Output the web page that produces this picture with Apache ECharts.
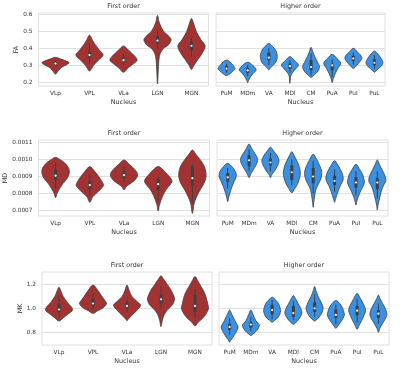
<!DOCTYPE html>
<html>
<head>
<meta charset="utf-8">
<script src="https://cdn.jsdelivr.net/npm/echarts@6/dist/echarts.min.js"></script>
<style>
  html, body { margin: 0; padding: 0; background: #fff; }
  #chart { width: 400px; height: 368px; }
</style>
</head>
<body>
<div id="chart"></div>
<script>
// categories
const firstOrder = ['VLp', 'VPL', 'VLa', 'LGN', 'MGN'];
const higherOrder = ['PuM', 'MDm', 'VA', 'MDl', 'CM', 'PuA', 'PuI', 'PuL'];

// y ranges and tick labels
const faRange = [0.178, 0.608];
const faTicks = [0.2, 0.3, 0.4, 0.5, 0.6];
const mdRange = [6.69e-4, 11.135e-4];
const mdTicks = [0.0007, 0.0008, 0.0009, 0.0010, 0.0011];
const mkRange = [0.694, 1.3025];
const mkTicks = [0.8, 1.0, 1.2];

// violin outlines: [value, relative half width], top to bottom
const faFirstShapes = [
  [[0.347, 0], [0.338, 0.35], [0.325, 0.8], [0.315, 1], [0.305, 0.85], [0.29, 0.5], [0.27, 0.22], [0.249, 0]],
  [[0.478, 0], [0.45, 0.2], [0.43, 0.35], [0.39, 0.72], [0.361, 1], [0.33, 0.65], [0.30, 0.3], [0.267, 0]],
  [[0.414, 0], [0.39, 0.35], [0.36, 0.75], [0.331, 1], [0.31, 0.75], [0.285, 0.35], [0.259, 0]],
  [[0.594, 0], [0.55, 0.14], [0.50, 0.45], [0.47, 0.85], [0.449, 1], [0.42, 0.8], [0.40, 0.45], [0.37, 0.2], [0.33, 0.1], [0.26, 0.05], [0.19, 0]],
  [[0.576, 0], [0.55, 0.14], [0.50, 0.35], [0.45, 0.7], [0.414, 1], [0.37, 0.78], [0.33, 0.43], [0.30, 0.18], [0.276, 0]]
];
const faHigherShapes = [
  [[0.331, 0], [0.32, 0.4], [0.30, 0.75], [0.282, 1], [0.265, 0.75], [0.25, 0.4], [0.239, 0]],
  [[0.318, 0], [0.30, 0.6], [0.273, 1], [0.25, 0.6], [0.23, 0.3], [0.21, 0.1], [0.198, 0]],
  [[0.429, 0], [0.41, 0.45], [0.39, 0.8], [0.37, 0.95], [0.35, 1], [0.32, 0.85], [0.30, 0.5], [0.285, 0.2], [0.273, 0]],
  [[0.351, 0], [0.33, 0.5], [0.302, 1], [0.28, 0.7], [0.26, 0.35], [0.24, 0.12], [0.22, 0.05], [0.194, 0]],
  [[0.406, 0], [0.38, 0.2], [0.35, 0.45], [0.32, 0.75], [0.292, 1], [0.265, 0.8], [0.245, 0.4], [0.229, 0]],
  [[0.365, 0], [0.34, 0.55], [0.312, 1], [0.28, 0.65], [0.25, 0.35], [0.22, 0.12], [0.198, 0]],
  [[0.40, 0], [0.38, 0.45], [0.36, 0.85], [0.341, 1], [0.32, 0.75], [0.30, 0.4], [0.282, 0]],
  [[0.384, 0], [0.36, 0.5], [0.34, 0.8], [0.316, 1], [0.295, 0.8], [0.28, 0.45], [0.265, 0.15], [0.259, 0]]
];
const mdFirstShapes = [
  [[10.12e-4, 0], [10.0e-4, 0.3], [9.8e-4, 0.65], [9.5e-4, 0.95], [9.2e-4, 1], [8.9e-4, 0.85], [8.6e-4, 0.55], [8.3e-4, 0.3], [8.0e-4, 0.1], [7.76e-4, 0]],
  [[9.58e-4, 0], [9.3e-4, 0.35], [9.0e-4, 0.65], [8.7e-4, 0.9], [8.5e-4, 1], [8.3e-4, 0.85], [8.0e-4, 0.45], [7.8e-4, 0.2], [7.49e-4, 0]],
  [[9.97e-4, 0], [9.7e-4, 0.4], [9.4e-4, 0.8], [9.1e-4, 1], [8.8e-4, 0.8], [8.55e-4, 0.4], [8.4e-4, 0.15], [8.21e-4, 0]],
  [[9.58e-4, 0], [9.4e-4, 0.35], [9.1e-4, 0.7], [8.85e-4, 0.95], [8.7e-4, 1], [8.5e-4, 0.85], [8.2e-4, 0.55], [7.9e-4, 0.35], [7.6e-4, 0.2], [7.3e-4, 0.08], [6.98e-4, 0]],
  [[10.55e-4, 0], [10.3e-4, 0.25], [10.0e-4, 0.55], [9.7e-4, 0.8], [9.4e-4, 0.95], [9.0e-4, 1], [8.6e-4, 0.85], [8.2e-4, 0.55], [7.8e-4, 0.3], [7.4e-4, 0.12], [6.84e-4, 0]]
];
const mdHigherShapes = [
  [[9.77e-4, 0], [9.6e-4, 0.45], [9.3e-4, 0.9], [9.0e-4, 1], [8.7e-4, 0.75], [8.4e-4, 0.5], [8.1e-4, 0.3], [7.8e-4, 0.12], [7.53e-4, 0]],
  [[10.9e-4, 0], [10.6e-4, 0.35], [10.3e-4, 0.75], [10.0e-4, 1], [9.7e-4, 0.85], [9.4e-4, 0.5], [9.15e-4, 0.2], [8.93e-4, 0]],
  [[10.71e-4, 0], [10.5e-4, 0.35], [10.2e-4, 0.8], [9.9e-4, 1], [9.6e-4, 0.8], [9.3e-4, 0.45], [9.1e-4, 0.15], [8.93e-4, 0]],
  [[10.45e-4, 0], [10.2e-4, 0.3], [9.9e-4, 0.6], [9.6e-4, 0.85], [9.2e-4, 1], [8.9e-4, 0.9], [8.6e-4, 0.7], [8.3e-4, 0.35], [8.05e-4, 0]],
  [[10.3e-4, 0], [10.0e-4, 0.4], [9.7e-4, 0.7], [9.4e-4, 0.95], [9.1e-4, 1], [8.8e-4, 0.85], [8.5e-4, 0.55], [8.2e-4, 0.3], [7.8e-4, 0.15], [7.5e-4, 0.07], [7.2e-4, 0]],
  [[9.93e-4, 0], [9.7e-4, 0.35], [9.4e-4, 0.7], [9.1e-4, 0.95], [8.8e-4, 1], [8.5e-4, 0.7], [8.2e-4, 0.45], [7.9e-4, 0.25], [7.65e-4, 0.1], [7.49e-4, 0]],
  [[9.71e-4, 0], [9.4e-4, 0.45], [9.1e-4, 0.8], [8.8e-4, 0.95], [8.65e-4, 1], [8.4e-4, 0.8], [8.1e-4, 0.5], [7.8e-4, 0.25], [7.5e-4, 0.08], [7.33e-4, 0]],
  [[9.97e-4, 0], [9.7e-4, 0.25], [9.4e-4, 0.55], [9.1e-4, 0.85], [8.75e-4, 1], [8.5e-4, 0.75], [8.2e-4, 0.5], [7.9e-4, 0.35], [7.6e-4, 0.2], [7.3e-4, 0.07], [7.04e-4, 0]]
];
const mkFirstShapes = [
  [[1.175, 0], [1.15, 0.12], [1.10, 0.3], [1.05, 0.6], [0.99, 1], [0.95, 0.65], [0.92, 0.3], [0.894, 0]],
  [[1.194, 0], [1.15, 0.35], [1.10, 0.65], [1.06, 0.9], [1.04, 1], [1.0, 0.7], [0.98, 0.35], [0.958, 0]],
  [[1.194, 0], [1.15, 0.15], [1.10, 0.35], [1.05, 0.8], [1.025, 1], [0.98, 0.7], [0.94, 0.35], [0.91, 0.1], [0.897, 0]],
  [[1.272, 0], [1.25, 0.15], [1.20, 0.45], [1.15, 0.75], [1.10, 0.95], [1.075, 1], [1.03, 0.85], [0.99, 0.5], [0.95, 0.25], [0.90, 0.1], [0.847, 0]],
  [[1.264, 0], [1.23, 0.2], [1.18, 0.45], [1.13, 0.7], [1.08, 0.85], [1.03, 0.95], [1.0, 1], [0.95, 0.8], [0.91, 0.5], [0.88, 0.2], [0.853, 0]]
];
const mkHigherShapes = [
  [[0.986, 0], [0.95, 0.25], [0.90, 0.6], [0.86, 0.9], [0.842, 1], [0.80, 0.75], [0.76, 0.4], [0.73, 0.1], [0.717, 0]],
  [[0.986, 0], [0.95, 0.25], [0.90, 0.55], [0.87, 0.9], [0.861, 1], [0.83, 0.85], [0.80, 0.5], [0.78, 0.15], [0.772, 0]],
  [[1.092, 0], [1.07, 0.4], [1.04, 0.75], [1.0, 0.95], [0.98, 1], [0.95, 0.9], [0.92, 0.65], [0.90, 0.3], [0.883, 0]],
  [[1.106, 0], [1.08, 0.25], [1.04, 0.55], [1.0, 0.85], [0.96, 1], [0.92, 0.75], [0.89, 0.4], [0.867, 0]],
  [[1.181, 0], [1.15, 0.15], [1.10, 0.4], [1.06, 0.7], [1.02, 0.95], [1.0, 1], [0.96, 0.85], [0.92, 0.45], [0.90, 0.15], [0.894, 0]],
  [[1.064, 0], [1.04, 0.45], [1.0, 0.8], [0.96, 0.97], [0.945, 1], [0.91, 0.8], [0.88, 0.5], [0.85, 0.2], [0.833, 0]],
  [[1.125, 0], [1.10, 0.25], [1.06, 0.55], [1.02, 0.85], [0.98, 1], [0.94, 0.8], [0.90, 0.55], [0.86, 0.25], [0.825, 0]],
  [[1.111, 0], [1.08, 0.2], [1.04, 0.5], [1.0, 0.8], [0.95, 1], [0.91, 0.8], [0.87, 0.45], [0.83, 0.15], [0.80, 0]]
];

// inner boxes: [whisker low, q1, median, q3, whisker high]
const faFirstBoxes = [
  [0.295, 0.30, 0.31, 0.32, 0.33], [0.31, 0.345, 0.36, 0.38, 0.43], [0.30, 0.32, 0.33, 0.345, 0.37],
  [0.40, 0.43, 0.445, 0.47, 0.50], [0.35, 0.39, 0.415, 0.44, 0.46]
];
const faHigherBoxes = [
  [0.255, 0.27, 0.28, 0.295, 0.31], [0.235, 0.255, 0.27, 0.285, 0.30], [0.30, 0.33, 0.345, 0.375, 0.40],
  [0.255, 0.28, 0.295, 0.31, 0.33], [0.24, 0.27, 0.29, 0.33, 0.37], [0.23, 0.27, 0.30, 0.31, 0.335],
  [0.305, 0.325, 0.34, 0.355, 0.375], [0.28, 0.30, 0.315, 0.335, 0.36]
];
const mdFirstBoxes = [
  [8.3e-4, 8.8e-4, 9.05e-4, 9.4e-4, 9.8e-4], [7.9e-4, 8.25e-4, 8.5e-4, 8.75e-4, 9.1e-4], [8.7e-4, 8.9e-4, 9.08e-4, 9.3e-4, 9.6e-4],
  [7.6e-4, 8.2e-4, 8.55e-4, 8.85e-4, 9.0e-4], [7.4e-4, 8.45e-4, 8.9e-4, 9.6e-4, 9.75e-4]
];
const mdHigherBoxes = [
  [8.3e-4, 8.7e-4, 8.95e-4, 9.2e-4, 9.5e-4], [9.3e-4, 9.6e-4, 9.95e-4, 10.25e-4, 10.6e-4], [9.3e-4, 9.65e-4, 9.82e-4, 10.05e-4, 10.4e-4],
  [8.5e-4, 8.8e-4, 9.25e-4, 9.65e-4, 10.0e-4], [8.0e-4, 8.6e-4, 9.0e-4, 9.5e-4, 9.9e-4], [8.1e-4, 8.5e-4, 8.75e-4, 9.05e-4, 9.4e-4],
  [7.9e-4, 8.35e-4, 8.65e-4, 8.95e-4, 9.3e-4], [7.7e-4, 8.25e-4, 8.65e-4, 8.9e-4, 9.3e-4]
];
const mkFirstBoxes = [
  [0.93, 0.97, 0.99, 1.04, 1.11], [0.99, 1.02, 1.04, 1.08, 1.13], [0.97, 1.0, 1.02, 1.05, 1.07],
  [1.0, 1.04, 1.075, 1.11, 1.18], [0.92, 0.97, 1.02, 1.11, 1.16]
];
const mkHigherBoxes = [
  [0.78, 0.82, 0.845, 0.87, 0.92], [0.81, 0.84, 0.865, 0.885, 0.93], [0.91, 0.95, 0.985, 1.03, 1.07],
  [0.90, 0.93, 0.96, 1.02, 1.06], [0.93, 0.97, 1.0, 1.05, 1.12], [0.87, 0.92, 0.945, 0.99, 1.03],
  [0.88, 0.94, 0.98, 1.02, 1.08], [0.87, 0.92, 0.955, 0.985, 1.04]
];

const RED = '#a33333';
const BLUE = '#3a90e3';
const EDGE = '#3f3f3f';
const TEXT = '#333';
const GRIDLINE = '#e0e0e0';

const panels = [
  { grid: { left: 38.5, top: 13, width: 170, height: 73 }, cats: firstOrder, shapes: faFirstShapes, boxes: faFirstBoxes,
    color: RED, title: 'First order', range: faRange, ticks: faTicks, digits: 1, yName: 'FA', yGap: 17 },
  { grid: { left: 216, top: 13, width: 169, height: 73 }, cats: higherOrder, shapes: faHigherShapes, boxes: faHigherBoxes,
    color: BLUE, title: 'Higher order', range: faRange, ticks: faTicks },
  { grid: { left: 38.5, top: 140, width: 171, height: 76 }, cats: firstOrder, shapes: mdFirstShapes, boxes: mdFirstBoxes,
    color: RED, title: 'First order', range: mdRange, ticks: mdTicks, digits: 4, yName: 'MD', yGap: 29 },
  { grid: { left: 217, top: 140, width: 171, height: 76 }, cats: higherOrder, shapes: mdHigherShapes, boxes: mdHigherBoxes,
    color: BLUE, title: 'Higher order', range: mdRange, ticks: mdTicks },
  { grid: { left: 42, top: 272, width: 170, height: 73 }, cats: firstOrder, shapes: mkFirstShapes, boxes: mkFirstBoxes,
    color: RED, title: 'First order', range: mkRange, ticks: mkTicks, digits: 1, yName: 'MK', yGap: 15.5 },
  { grid: { left: 219, top: 272, width: 170, height: 73 }, cats: higherOrder, shapes: mkHigherShapes, boxes: mkHigherBoxes,
    color: BLUE, title: 'Higher order', range: mkRange, ticks: mkTicks }
];

function violinRenderer(shapes, boxes, color) {
  return function (params, api) {
    const i = params.dataIndex;
    const cx = api.coord([i, 0])[0];
    const half = api.size([1, 0])[0] * 0.4;
    const y = v => api.coord([i, v])[1];
    const prof = shapes[i];
    const right = prof.map(p => [cx + p[1] * half, y(p[0])]);
    const left = prof.slice(1, -1).reverse().map(p => [cx - p[1] * half, y(p[0])]);
    const b = boxes[i];
    return {
      type: 'group',
      children: [
        { type: 'polygon', shape: { points: right.concat(left), smooth: 0.35 },
          style: { fill: color, stroke: EDGE, lineWidth: 0.8 } },
        { type: 'line', shape: { x1: cx, y1: y(b[4]), x2: cx, y2: y(b[0]) },
          style: { stroke: EDGE, lineWidth: 1 } },
        { type: 'rect', shape: { x: cx - 1.5, y: y(b[3]), width: 3, height: y(b[1]) - y(b[3]) },
          style: { fill: EDGE } },
        { type: 'circle', shape: { cx: cx, cy: y(b[2]), r: 1.1 }, style: { fill: '#fff' } }
      ]
    };
  };
}

const chart = echarts.init(document.getElementById('chart'), null, { renderer: 'canvas' });

const option = {
  animation: false,
  backgroundColor: '#fff',
  textStyle: { fontFamily: 'DejaVu Sans' },
  title: panels.map(p => ({
    text: p.title,
    left: p.grid.left + p.grid.width / 2,
    top: p.grid.top - 9.5,
    textAlign: 'center',
    padding: 0,
    textStyle: { fontSize: 6.4, fontWeight: 'normal', color: TEXT, fontFamily: 'DejaVu Sans' }
  })),
  grid: panels.map(p => Object.assign({
    containLabel: false, show: true, borderColor: GRIDLINE, borderWidth: 1, backgroundColor: '#fff'
  }, p.grid)),
  xAxis: panels.map((p, k) => ({
    type: 'category',
    gridIndex: k,
    data: p.cats,
    axisLine: { show: false },
    axisTick: { show: false },
    splitLine: { show: false },
    axisLabel: { interval: 0, margin: 4, fontSize: 5.8, color: TEXT },
    name: 'Nucleus',
    nameLocation: 'middle',
    nameGap: 13,
    nameTextStyle: { fontSize: 6.4, color: TEXT }
  })),
  yAxis: panels.map((p, k) => ({
    type: 'value',
    gridIndex: k,
    min: p.range[0],
    max: p.range[1],
    axisLine: { show: false },
    axisTick: { show: false, customValues: p.ticks },
    splitLine: { show: true, lineStyle: { color: GRIDLINE, width: 1 } },
    axisLabel: {
      show: !!p.yName,
      customValues: p.ticks,
      margin: 6,
      fontSize: 5.8,
      color: TEXT,
      formatter: v => v.toFixed(p.digits || 1)
    },
    name: p.yName || '',
    nameLocation: 'middle',
    nameRotate: 90,
    nameGap: p.yGap || 0,
    nameTextStyle: { fontSize: 6.4, color: TEXT }
  })),
  series: panels.map((p, k) => ({
    type: 'custom',
    xAxisIndex: k,
    yAxisIndex: k,
    silent: true,
    clip: true,
    encode: { x: 0, y: 1 },
    data: p.cats.map((c, i) => [i, p.boxes[i][2]]),
    renderItem: violinRenderer(p.shapes, p.boxes, p.color)
  }))
};

chart.setOption(option);
</script>
</body>
</html>
